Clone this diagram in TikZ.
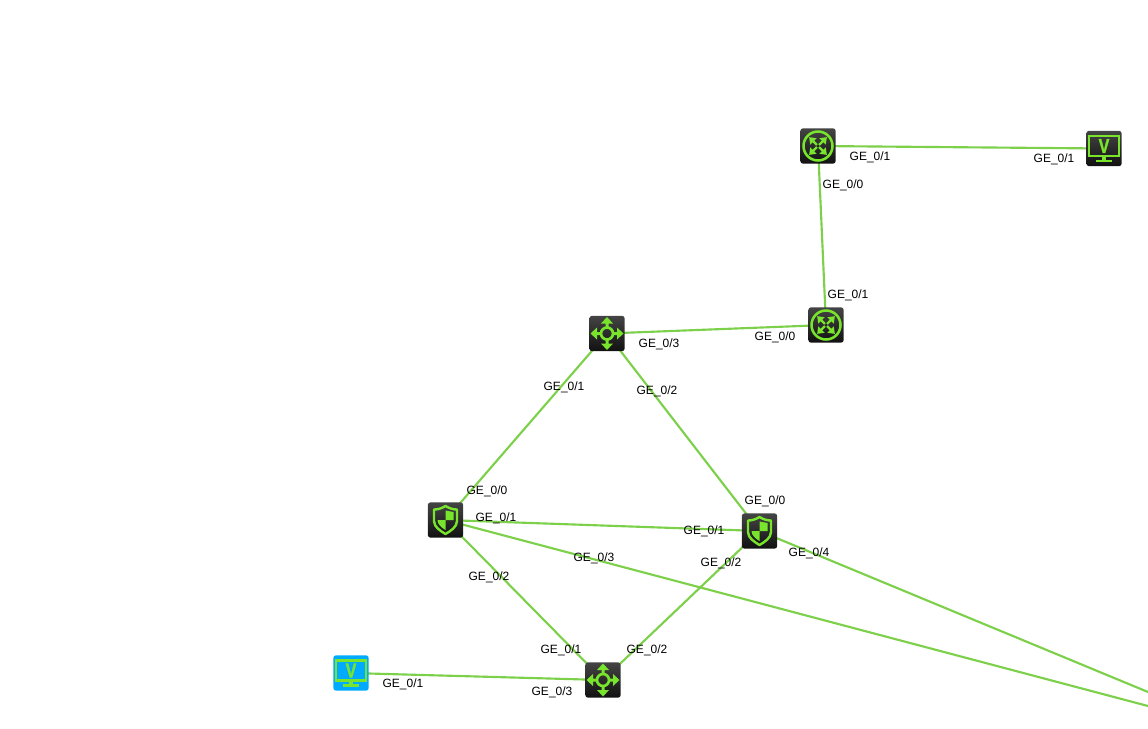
\documentclass[tikz,border=0pt]{standalone}
\usepackage{fontspec}
\setmainfont{Liberation Sans}
\usetikzlibrary{backgrounds}
\definecolor{lnk}{HTML}{7DD04A}
\definecolor{ico}{HTML}{78E52C}
\definecolor{boxtop}{HTML}{444444}
\definecolor{boxbot}{HTML}{111111}
\definecolor{pcblue}{HTML}{00AAFF}
\tikzset{
  x=0.75pt,y=-0.75pt,
  dev/.style={rectangle,rounded corners=2pt,minimum size=26.5pt,inner sep=0pt,top color=boxtop,bottom color=boxbot,draw=none},
  blue dev/.style={rectangle,rounded corners=2pt,minimum size=26.5pt,inner sep=0pt,fill=pcblue,draw=none},
  link/.style={draw=lnk,line width=1.6pt},
  port/.style={font=\fontsize{9}{11}\selectfont,inner sep=0pt,text=black},
  vmark/.style={font=\bfseries\fontsize{15}{15}\selectfont\addfontfeature{FakeBold=1.5},text=ico,inner sep=0pt,transform shape,xscale=0.8},
  icoline/.style={draw=ico,line width=1.8pt},
}
\newcommand{\switchicon}[1]{%
  \begin{scope}[shift={(#1)}]
    \draw[icoline,line width=2pt] (0,0) circle (6);
    \foreach \a in {0,90,180,270}{%
      \begin{scope}[rotate=\a]
        \fill[ico] (-1.5,-5.5) -- (-1.5,-10) -- (-6,-10) -- (0,-16.5) -- (6,-10) -- (1.5,-10) -- (1.5,-5.5) -- cycle;
      \end{scope}}
  \end{scope}}
\newcommand{\routericon}[1]{%
  \begin{scope}[shift={(#1)}]
    \draw[icoline,line width=1.9pt] (0,0) circle (14.5);
    \foreach \a in {45,135,225,315}{%
      \begin{scope}[rotate=\a]
        \fill[ico] (-1.2,-1.5) -- (-1.2,-6.5) -- (-4.5,-6.5) -- (0,-12.5) -- (4.5,-6.5) -- (1.2,-6.5) -- (1.2,-1.5) -- cycle;
      \end{scope}}
  \end{scope}}
\newcommand{\shieldicon}[1]{%
  \begin{scope}[shift={(#1)}]
    \draw[icoline,line join=round] (0,-14) .. controls (4,-11.5) and (8,-10.5) .. (11.5,-10.5)
      -- (11.5,1) .. controls (11.5,7) and (5,11) .. (0,14)
      .. controls (-5,11) and (-11.5,7) .. (-11.5,1) -- (-11.5,-10.5)
      .. controls (-8,-10.5) and (-4,-11.5) .. (0,-14) -- cycle;
    \fill[ico] (0,-9.5) -- (8,-8) -- (8,0) -- (0,0) -- cycle;
    \fill[ico] (0,0) -- (-8,0) .. controls (-8,4.5) and (-3.5,8) .. (0,10) -- cycle;
  \end{scope}}
\newcommand{\monitoricon}[2]{%
  \begin{scope}[shift={(#1)}]
    \draw[icoline] (-15,-12.5) rectangle (15,7.5);
    \fill[ico] (-2,7.5) rectangle (2,11);
    \fill[ico] (-8,11) -- (8,11) -- (8,13.5) -- (-8,13.5) -- cycle;
    \node[vmark] (#2) at (0,-2.5) {V};
  \end{scope}}
\begin{document}
\begin{tikzpicture}
\useasboundingbox (0,0) rectangle (1148,728);
\node[dev] (r1) at (818,146) {};
\node[dev] (mon) at (1104,148.5) {};
\node[dev] (r2) at (826,325) {};
\node[dev] (sw1) at (607,333.5) {};
\node[dev] (fw1) at (445.5,520) {};
\node[dev] (fw2) at (759.5,531) {};
\node[dev] (sw2) at (603,680) {};
\node[blue dev] (pc) at (351,673) {};
\coordinate (off1) at (1148,706);
\coordinate (off2) at (1148,692);
\begin{scope}[on background layer]
  \draw[link] (r1.center) -- (mon.center);
  \draw[link] (r1.center) -- (r2.center);
  \draw[link] (sw1.center) -- (r2.center);
  \draw[link] (sw1.center) -- (fw1.center);
  \draw[link] (sw1.center) -- (fw2.center);
  \draw[link] (fw1.center) -- (fw2.center);
  \draw[link] (fw1.center) -- (sw2.center);
  \draw[link] (fw2.center) -- (sw2.center);
  \draw[link] (pc.center) -- (sw2.center);
  \draw[link] (fw1.center) -- (off1);
  \draw[link] (fw2.center) -- (off2);
\end{scope}
\routericon{r1}
\routericon{r2}
\switchicon{sw1}
\switchicon{sw2}
\shieldicon{fw1}
\shieldicon{fw2}
\monitoricon{mon}{vm1}
\monitoricon{pc}{vm2}
\node[port] (p1) at (870,157) {GE\_0/1};
\node[port] (p2) at (843,185) {GE\_0/0};
\node[port] (p3) at (1054,159) {GE\_0/1};
\node[port] (p4) at (848,295) {GE\_0/1};
\node[port] (p5) at (775,337) {GE\_0/0};
\node[port] (p6) at (659,344) {GE\_0/3};
\node[port] (p7) at (564,387) {GE\_0/1};
\node[port] (p8) at (657,391) {GE\_0/2};
\node[port] (p9) at (487,491) {GE\_0/0};
\node[port] (p10) at (496,518) {GE\_0/1};
\node[port] (p11) at (704,531) {GE\_0/1};
\node[port] (p12) at (765,501) {GE\_0/0};
\node[port] (p13) at (594,558) {GE\_0/3};
\node[port] (p14) at (721,563) {GE\_0/2};
\node[port] (p15) at (809,553) {GE\_0/4};
\node[port] (p16) at (489,577) {GE\_0/2};
\node[port] (p17) at (561,650) {GE\_0/1};
\node[port] (p18) at (647,650) {GE\_0/2};
\node[port] (p19) at (403,684) {GE\_0/1};
\node[port] (p20) at (552,692) {GE\_0/3};
\end{tikzpicture}
\end{document}
